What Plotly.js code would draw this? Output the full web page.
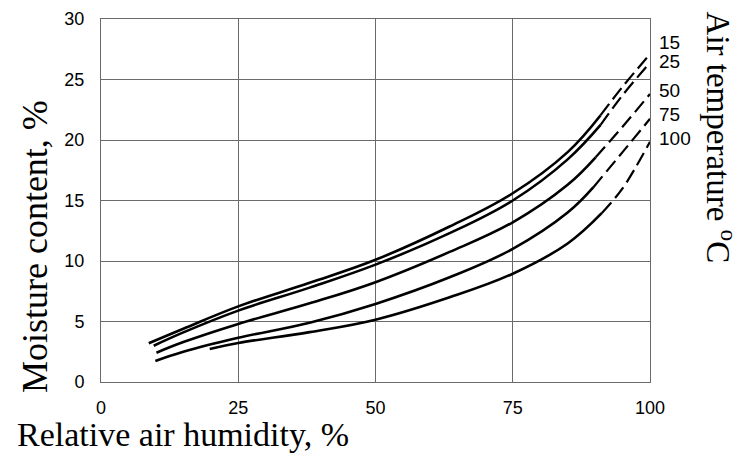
<!DOCTYPE html>
<html>
<head>
<meta charset="utf-8">
<script src="https://cdn.plot.ly/plotly-3.0.1.min.js"></script>
<style>
  body { margin: 0; background: #fff; }
  #myPlot { width: 743px; height: 455px; }
</style>
</head>
<body>
<div id="myPlot"></div>
<script>
// Air temperature of each curve (°C)
var tempLabels = ['15', '25', '50', '75', '100']

// Solid part of the curves (relative humidity %, moisture content %)
var solidX15 = [8.7, 15, 25, 38, 50, 63.5, 75, 85, 91]
var solidY15 = [3.2, 4.4, 6.25, 8.2, 10.1, 12.85, 15.6, 19.0, 22.05]
var solidX25 = [9.6, 15, 25, 38, 50, 63.5, 75, 85, 91]
var solidY25 = [3.0, 4.1, 5.9, 7.8, 9.7, 12.3, 15.0, 18.4, 21.25]
var solidX50 = [10.1, 15, 25, 38, 50, 63.5, 75, 85, 90.1]
var solidY50 = [2.42, 3.3, 4.8, 6.5, 8.25, 10.75, 13.2, 16.3, 18.57]
var solidX75 = [9.9, 15, 25, 38, 50, 63.5, 75, 85, 89.7]
var solidY75 = [1.74, 2.5, 3.65, 4.9, 6.45, 8.65, 11.0, 14.0, 16.1]
var solidX100 = [19.8, 25, 38, 50, 63.5, 75, 85, 91.2]
var solidY100 = [2.73, 3.22, 4.12, 5.15, 7.0, 8.95, 11.45, 13.95]

// Dashed (extrapolated) part of the curves
var dashX15 = [91, 95, 100]
var dashY15 = [22.05, 24.4, 27.1]
var dashX25 = [91, 95, 100]
var dashY25 = [21.25, 23.7, 26.4]
var dashX50 = [90.1, 95, 100]
var dashY50 = [18.57, 21.1, 23.8]
var dashX75 = [89.7, 95, 100]
var dashY75 = [16.1, 19.0, 21.75]
var dashX100 = [91.2, 95, 100]
var dashY100 = [13.95, 16.0, 19.85]

var xTicks = [0, 25, 50, 75, 100]
var yTicks = [0, 5, 10, 15, 20, 25, 30]

var solids = [[solidX15, solidY15], [solidX25, solidY25], [solidX50, solidY50],
              [solidX75, solidY75], [solidX100, solidY100]]
var dashes = [[dashX15, dashY15], [dashX25, dashY25], [dashX50, dashY50],
              [dashX75, dashY75], [dashX100, dashY100]]

var data = []
for (var i = 0; i < solids.length; i++) {
  data.push({x: solids[i][0], y: solids[i][1], mode: 'lines', showlegend: false,
    line: {color: '#000', width: 2.6, shape: 'spline', smoothing: 1.1}, name: tempLabels[i]})
  data.push({x: dashes[i][0], y: dashes[i][1], mode: 'lines', showlegend: false,
    line: {color: '#000', width: 2.2, shape: 'spline', smoothing: 1, dash: '14px,6px'}, name: tempLabels[i]})
}

// label heights on the right side (paper fraction)
var labelPos = [0.934, 0.882, 0.802, 0.736, 0.672]
var annotations = []
for (var j = 0; j < tempLabels.length; j++) {
  annotations.push({text: tempLabels[j], xref: 'paper', yref: 'paper', x: 1.013, y: labelPos[j],
    xanchor: 'left', yanchor: 'middle', showarrow: false,
    font: {family: 'Liberation Sans, Arial', size: 19, color: '#000'}})
}
annotations.push({text: 'Relative air humidity, %', xref: 'paper', yref: 'paper', x: -0.157, y: -0.146,
  xanchor: 'left', yanchor: 'middle', showarrow: false,
  font: {family: 'Liberation Serif, Times New Roman', size: 34, color: '#000'}})
annotations.push({text: 'Moisture content, %', xref: 'paper', yref: 'paper', x: -0.12, y: 0.372,
  xanchor: 'center', yanchor: 'middle', textangle: -90, showarrow: false,
  font: {family: 'Liberation Serif, Times New Roman', size: 36, color: '#000'}})
annotations.push({text: 'Air temperature <sup>o</sup>C', xref: 'paper', yref: 'paper', x: 1.13, y: 1.025,
  xanchor: 'center', yanchor: 'top', textangle: 90, showarrow: false,
  font: {family: 'Liberation Serif, Times New Roman', size: 33, color: '#000'}})

var layout = {
  width: 743, height: 455,
  margin: {l: 101, r: 93, t: 19, b: 73},
  paper_bgcolor: '#fff', plot_bgcolor: '#fff',
  xaxis: {range: [0, 100], tickvals: xTicks, showgrid: true, gridcolor: '#6a6a6a', gridwidth: 1,
    zeroline: false, showline: true, mirror: true, linecolor: '#6a6a6a', linewidth: 1,
    ticks: '', ticklabelstandoff: 9,
    tickfont: {family: 'Liberation Sans, Arial', size: 18, color: '#000'}},
  yaxis: {range: [0, 30], tickvals: yTicks, showgrid: true, gridcolor: '#6a6a6a', gridwidth: 1,
    zeroline: false, showline: true, mirror: true, linecolor: '#6a6a6a', linewidth: 1,
    ticks: '', ticklabelstandoff: 12,
    tickfont: {family: 'Liberation Sans, Arial', size: 18, color: '#000'}},
  annotations: annotations
}

Plotly.newPlot('myPlot', data, layout, {staticPlot: true})
</script>
</body>
</html>
